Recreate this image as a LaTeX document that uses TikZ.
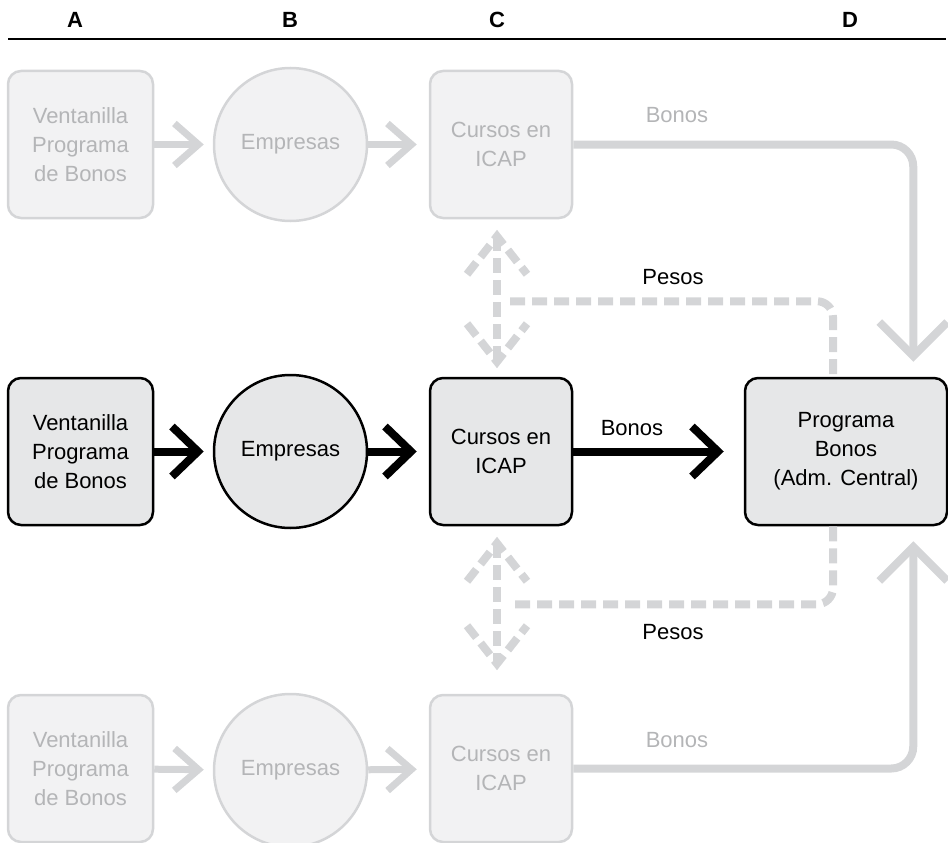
\documentclass[tikz,border=0pt]{standalone}
\usepackage{fontspec}
\setmainfont{Liberation Sans}
\usetikzlibrary{arrows.meta, positioning, calc}
\definecolor{lightline}{RGB}{212,213,215}
\definecolor{lightfill}{RGB}{242,242,243}
\definecolor{lighttext}{RGB}{180,181,183}
\definecolor{darkfill}{RGB}{230,231,232}
\tikzstyle{window} = [rectangle, rounded corners=13pt, minimum width=145pt, minimum height=147pt, align=center, draw=black, line width=2.5pt, fill=darkfill]
\tikzstyle{firm} = [circle, minimum size=153pt, align=center, draw=black, line width=2.5pt, fill=darkfill]
\tikzstyle{faded} = [draw=lightline, fill=lightfill, text=lighttext]
\tikzstyle{darrow} = [line width=8pt, -{Straight Barb[length=26pt,width=50pt]}]
\tikzstyle{larrow} = [line width=7pt, draw=lightline, -{Straight Barb[length=24pt,width=42pt]}]
\tikzstyle{bonosline} = [line width=8pt, draw=lightline, rounded corners=22pt, -{Straight Barb[length=34pt,width=68pt]}]
\tikzstyle{pesos} = [line width=8pt, draw=lightline, dash pattern=on 15pt off 7pt]

\begin{document}
\begin{tikzpicture}[x=1pt, y=-1pt, node distance=160pt, font=\fontsize{22}{29}\selectfont]
\useasboundingbox (0,0) rectangle (948,843);
\node (ha) at (75,20) {\bfseries A};
\node (hb) at (290,20) {\bfseries B};
\node (hc) at (497,20) {\bfseries C};
\node (hd) at (850,20) {\bfseries D};
\draw [line width=2.5pt] (8,39) -- (946,39);
% middle row
\node (vm) [window] at (80.5,451.5) {Ventanilla\\Programa\\de Bonos};
\node (em) [firm, right=58.5pt of vm] {Empresas};
\node (cm) [window, minimum width=142pt, right=60.5pt of em] {Cursos en\\ICAP};
\node (dm) [window, minimum width=202pt, right=170.5pt of cm] {Programa\\Bonos\\(Adm. Central)};
% top row
\node (vt) [window, faded, above=157.5pt of vm] {Ventanilla\\Programa\\de Bonos};
\node (et) [firm, faded, above=151.5pt of em] {Empresas};
\node (ct) [window, faded, minimum width=142pt, above=157.5pt of cm] {Cursos en\\ICAP};
% bottom row
\node (vb) [window, faded, below=167.5pt of vm] {Ventanilla\\Programa\\de Bonos};
\node (eb) [firm, faded, below=163.5pt of em] {Empresas};
\node (cb) [window, faded, minimum width=142pt, below=167.5pt of cm] {Cursos en\\ICAP};
\draw [darrow, shorten >=9pt] (vm) -- (em);
\draw [darrow, shorten >=12pt] (em) -- (cm);
\draw [darrow, shorten >=20pt] (cm) -- (dm);
\node (bm) at (632,428) {Bonos};
\draw [larrow, shorten >=9pt] (vt) -- (et);
\draw [larrow, shorten >=12pt] (et) -- (ct);
\draw [larrow, shorten >=9pt] (vb) -- (eb);
\draw [larrow, shorten >=12pt] (eb) -- (cb);
\coordinate (dtop) at ($(dm.north east)+(-35,-15)$);
\coordinate (dbot) at ($(dm.south east)+(-35,15)$);
\draw [bonosline] (ct.east) -| (dtop);
\draw [bonosline] (cb.east) -| (dbot);
\node (bt) [text=lighttext] at (677,115) {Bonos};
\node (bb) [text=lighttext] at (677,740) {Bonos};
% pesos, upper
\coordinate (pu1) at ($(ct.south)+(-4,17)$);
\coordinate (pu2) at ($(cm.north)+(-4,-15)$);
\draw [pesos] (pu1) -- (pu2);
\draw [pesos] ($(pu1)+(-30,38)$) -- (pu1) -- ($(pu1)+(30,38)$);
\draw [pesos] ($(pu2)+(-30,-38)$) -- (pu2) -- ($(pu2)+(30,-38)$);
\draw [pesos, rounded corners=16pt] ($(pu1)+(13,65)$) -| ([xshift=-13pt]dm.north);
\node (pt) at (673,277) {Pesos};
% pesos, lower
\coordinate (pl1) at ($(cm.south)+(-4,17)$);
\coordinate (pl2) at ($(cb.north)+(-4,-30)$);
\draw [pesos] (pl1) -- (pl2);
\draw [pesos] ($(pl1)+(-30,38)$) -- (pl1) -- ($(pl1)+(30,38)$);
\draw [pesos] ($(pl2)+(-30,-38)$) -- (pl2) -- ($(pl2)+(30,-38)$);
\draw [pesos, rounded corners=16pt] ([xshift=-13pt]dm.south) |- ($(pl1)+(13,61)$);
\node (pb) at (673,632) {Pesos};
\end{tikzpicture}
\end{document}
